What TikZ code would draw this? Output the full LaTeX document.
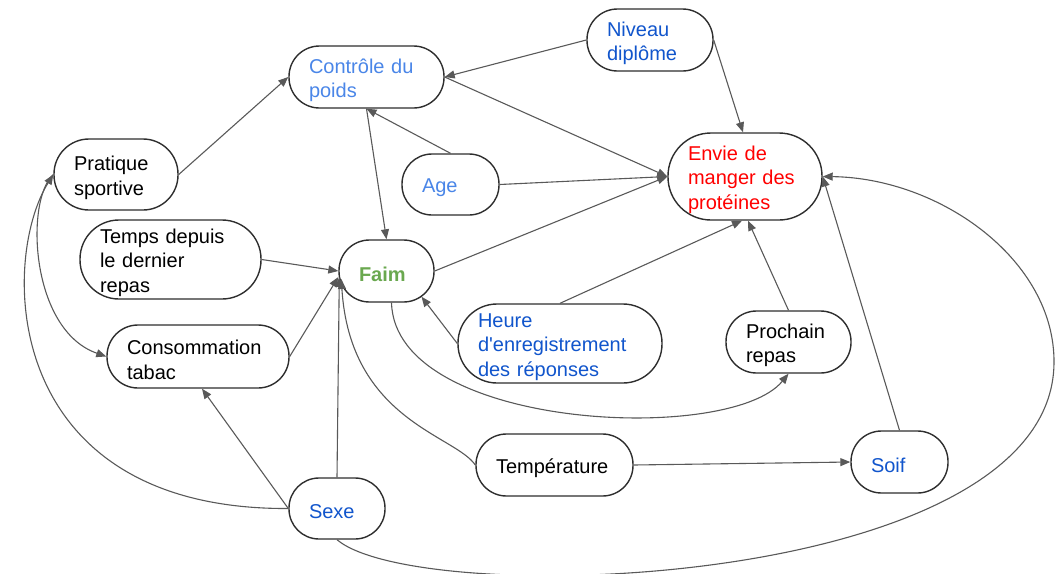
\documentclass[tikz,border=0pt]{standalone}
\usepackage{fontspec}
\setmainfont{Liberation Sans}[Ligatures=TeXOff]
\usetikzlibrary{arrows.meta}
\definecolor{lblue}{HTML}{4A86E8}
\definecolor{dblue}{HTML}{1155CC}
\definecolor{fgreen}{HTML}{6AA84F}
\definecolor{ered}{HTML}{FF0000}
\definecolor{edgec}{HTML}{595959}
\definecolor{borderc}{HTML}{2E2E2E}
\newcommand\toppad{\rule{0pt}{21pt}}
\tikzset{
  pill/.code 2 args={%
    \pgfmathsetmacro\pilltw{#1-40}%
    \pgfmathsetmacro\pillrc{#2/2-0.5}%
    \tikzset{draw=borderc, line width=1.4pt, fill=white,
      minimum width=#1pt, minimum height=#2pt, inner xsep=20pt, inner ysep=0pt,
      text width=\pilltw pt, align=left, rounded corners=\pillrc pt,
      font=\fontsize{20}{24.5}\selectfont}},
  conn/.style={draw=edgec, line width=1.1pt, -{Triangle[length=10pt,width=8pt]}},
}
\begin{document}
\begin{tikzpicture}[x=1pt,y=-1pt]
\useasboundingbox (0,0) rectangle (1059,573);
% nodes
\node[pill={155}{62}, text=lblue] (ctrl) at (366.5,77) {\toppad Contrôle du\\poids};
\node[pill={124}{71}] (prat) at (116,174.5) {\toppad Pratique\\sportive};
\node[pill={97}{61}, text=lblue] (age) at (450.5,184.5) {\toppad Age};
\node[pill={181}{79}] (temps) at (170.5,259.5) {\toppad Temps depuis\\le dernier\\repas};
\node[pill={95}{62}, text=fgreen] (faim) at (386.5,271) {\toppad\bfseries Faim};
\node[pill={126}{62}, text=dblue] (niv) at (650,40) {\toppad Niveau\\diplôme};
\node[pill={154}{87}, text=ered] (envie) at (745,176.5) {\toppad Envie de\\manger des\\protéines};
\node[pill={182}{63}] (conso) at (198,356.5) {\toppad Consommation\\tabac};
\node[pill={96}{61}, text=dblue] (sexe) at (337,508.5) {\toppad Sexe};
\node[pill={204}{79}, text=dblue] (heure) at (560,343.5) {\toppad Heure\\d'enregistrement\\des réponses};
\node[pill={157}{62}] (temp) at (554.5,465) {\toppad Température};
\node[pill={125}{62}] (proch) at (788.5,342) {\toppad Prochain\\repas};
\node[pill={97}{62}, text=dblue] (soif) at (899.5,462) {\toppad Soif};
% straight connectors
\draw[conn] (prat.east) -- (ctrl.west);
\draw[conn] (niv.west) -- (ctrl.east);
\draw[conn] (ctrl.east) -- (envie.west);
\draw[conn] (age.north) -- (ctrl.south);
\draw[conn] (ctrl.south) -- (faim.north);
\draw[conn] (age.east) -- (envie.west);
\draw[conn] (niv.east) -- ([xshift=-2pt]envie.north);
\draw[conn] (temps.east) -- (faim.west);
\draw[conn] (faim.east) -- (envie.west);
\draw[conn] (heure.north) -- ([xshift=-3pt]envie.south);
\draw[conn] (proch.north) -- ([xshift=3pt]envie.south);
\draw[conn] (soif.north) -- (envie.east);
\draw[conn] (conso.east) -- ([yshift=-6pt]faim.west);
\draw[conn] (sexe.north) -- ([xshift=1pt,yshift=-6pt]faim.west);
\draw[conn] (sexe.west) -- ([xshift=4pt]conso.south);
\draw[conn] (heure.west) -- ([xshift=35pt,yshift=6pt]faim.south);
\draw[conn] (temp.east) -- (soif.west);
% curved connectors
\draw[conn] (sexe.south) .. controls (420,610) and (1052,590) .. (1054,363)
  .. controls (1055,260) and (940,178) .. (envie.east);
\draw[conn] (sexe.west) .. controls (0,510) and (0,260) .. (prat.west);
\draw[conn] (prat.west) .. controls (25,200) and (30,330) .. (conso.west);
\draw[conn] (temp.west) .. controls (455,435) and (350,420) .. ([xshift=3pt,yshift=-8pt]faim.west);
\draw[conn] ([xshift=5pt]faim.south) .. controls (395,430) and (730,445) .. (proch.south);
\end{tikzpicture}
\end{document}
